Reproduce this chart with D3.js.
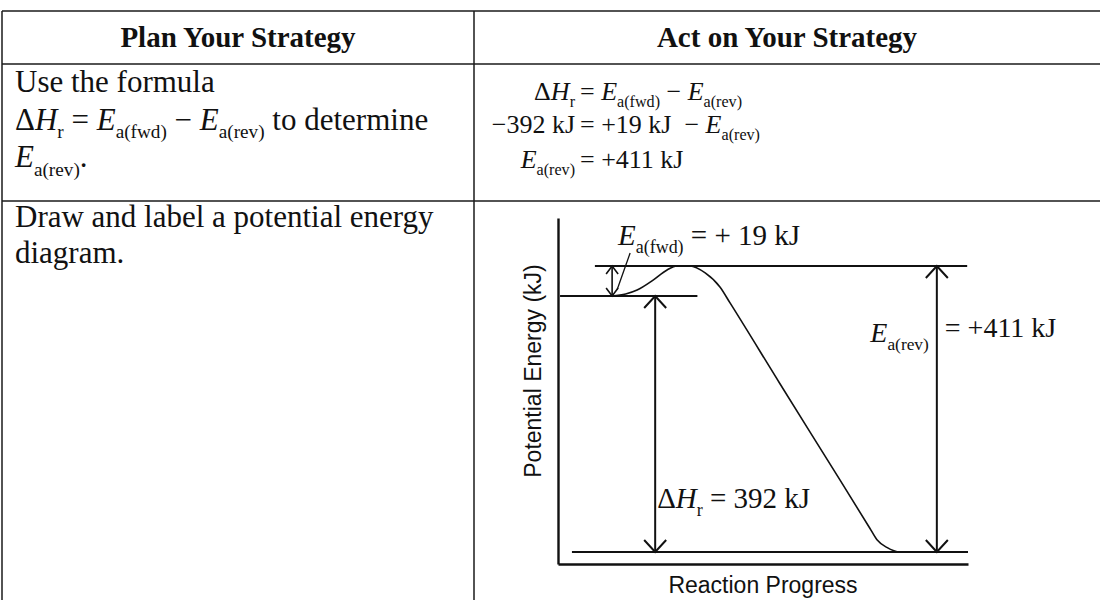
<!DOCTYPE html>
<html>
<head>
<meta charset="utf-8">
<script src="https://cdn.jsdelivr.net/npm/d3@7.9.0/dist/d3.min.js"></script>
<style>
  html, body { margin: 0; padding: 0; background: #fff; }
  svg { display: block; }
  text { fill: #111; white-space: pre; }
</style>
</head>
<body>
<div id="chart"></div>
<script>
// energies in kJ, counted from the products
const levelNames = ["reactants", "activated complex", "products"];
const levelEnergy = [392, 411, 0];

// where each level line starts and stops, as reaction progress (0-100)
const levelStart = [0.5, 9, 3.4];
const levelEnd = [34, 99.8, 100];

// the energy curve
const curveProgress = [13.2, 16.5, 19.3, 23.2, 26.6, 29.0, 32.2, 35.9, 39.5, 42.0, 54.1, 68.8, 76.1, 77.8, 80.2, 83.4, 100];
const curveEnergy = [392, 393.3, 395.8, 402.1, 408.5, 411, 411, 406.6, 397.7, 381, 258, 110, 36, 18.7, 7, 0, 0];

// arrows: Ea(fwd), dH, Ea(rev)
const arrowProgress = [13.2, 23.7, 92.4];
const arrowFrom = [392, 392, 411];
const arrowTo = [411, 0, 0];

// table text, [text, style] with "i" italic and "s" subscript
const headers = ["Plan Your Strategy", "Act on Your Strategy"];
const planLines = [
  [["Use the formula", ""]],
  [["Δ", ""], ["H", "i"], ["r", "s"], [" = ", ""], ["E", "i"], ["a(fwd)", "s"], [" − ", ""], ["E", "i"], ["a(rev)", "s"], [" to determine", ""]],
  [["E", "i"], ["a(rev)", "s"], [".", ""]]
];
const drawLines = [
  [["Draw and label a potential energy", ""]],
  [["diagram.", ""]]
];
const eqLeft = [
  [["Δ", ""], ["H", "i"], ["r", "s"]],
  [["−392 kJ", ""]],
  [["E", "i"], ["a(rev)", "s"]]
];
const eqRight = [
  [["= ", ""], ["E", "i"], ["a(fwd)", "s"], [" − ", ""], ["E", "i"], ["a(rev)", "s"]],
  [["= +19 kJ  − ", ""], ["E", "i"], ["a(rev)", "s"]],
  [["= +411 kJ", ""]]
];

const W = 1100, H = 600;
const serif = "'Liberation Serif', 'Times New Roman', serif";
const sans = "'Liberation Sans', Arial, sans-serif";

const svg = d3.select("#chart").append("svg")
  .attr("width", W)
  .attr("height", H);

function rich(sel, parts, size) {
  let shift = 0;
  parts.forEach(([t, s]) => {
    const sp = sel.append("tspan").text(t);
    if (s === "i") sp.style("font-style", "italic");
    const want = s === "s" ? size * 0.28 : 0;
    if (want !== shift) { sp.attr("dy", want - shift); shift = want; }
    if (s === "s") sp.style("font-size", (size * 0.62) + "px");
  });
}

function textLine(tx, ty, parts, size, anchor) {
  const t = svg.append("text")
    .attr("x", tx).attr("y", ty)
    .attr("text-anchor", anchor || "start")
    .style("font-family", serif)
    .style("font-size", size + "px");
  rich(t, parts, size);
  return t;
}

/* table */
const tLeft = 2, tMid = 474, tTop = 11, headBottom = 64, rowSep = 201;
const grid = svg.append("g").attr("stroke", "#1a1a1a").attr("stroke-width", 1.5);
[tTop, headBottom, rowSep].forEach(yy =>
  grid.append("line").attr("x1", tLeft).attr("x2", W).attr("y1", yy).attr("y2", yy));
[tLeft, tMid].forEach(xx =>
  grid.append("line").attr("x1", xx).attr("x2", xx).attr("y1", tTop).attr("y2", H));

headers.forEach((h, i) => {
  svg.append("text")
    .attr("x", i === 0 ? (tLeft + tMid) / 2 : (tMid + W) / 2)
    .attr("y", 47)
    .attr("text-anchor", "middle")
    .style("font-family", serif)
    .style("font-weight", "bold")
    .style("font-size", "29px")
    .text(h);
});

planLines.forEach((p, i) => textLine(15, 92 + i * 37.5, p, 31));
drawLines.forEach((p, i) => textLine(15, 227 + i * 36, p, 31));

const eqX = 580, eqY = [100, 133, 168];
eqLeft.forEach((p, i) => textLine(eqX - 5, eqY[i], p, 26, "end"));
eqRight.forEach((p, i) => textLine(eqX, eqY[i], p, 26));

/* potential energy diagram */
const x = d3.scaleLinear().domain([0, 100]).range([558, 968]);
const y = d3.scaleLinear().domain([0, 392, 411]).range([552, 296, 266]);
const frameY = d3.scaleLinear().domain([0, 1]).range([564, 218]);

const diagram = svg.append("g");

diagram.append("g")
  .attr("transform", "translate(0,564)")
  .call(d3.axisBottom(x).tickValues([]).tickSizeOuter(0))
  .select(".domain").attr("stroke", "#111").attr("stroke-width", 2.4);

diagram.append("g")
  .attr("transform", "translate(558,0)")
  .call(d3.axisLeft(frameY).tickValues([]).tickSizeOuter(0))
  .select(".domain").attr("stroke", "#111").attr("stroke-width", 2.4);

diagram.selectAll(".level")
  .data(levelNames)
  .join("line")
  .attr("class", "level")
  .attr("x1", (d, i) => x(levelStart[i]))
  .attr("x2", (d, i) => x(levelEnd[i]))
  .attr("y1", (d, i) => y(levelEnergy[i]))
  .attr("y2", (d, i) => y(levelEnergy[i]))
  .attr("stroke", "#111")
  .attr("stroke-width", 1.8);

const curve = d3.line()
  .x(i => x(curveProgress[i]))
  .y(i => y(curveEnergy[i]))
  .curve(d3.curveMonotoneX);

diagram.append("path")
  .attr("d", curve(d3.range(curveProgress.length)))
  .attr("fill", "none")
  .attr("stroke", "#111")
  .attr("stroke-width", 1.6);

arrowProgress.forEach((p, i) => {
  const ax = x(p), y0 = y(arrowFrom[i]), y1 = y(arrowTo[i]);
  const hw = i === 0 ? 6 : 11, hl = i === 0 ? 8 : 12;
  const up = Math.min(y0, y1), dn = Math.max(y0, y1);
  const g = diagram.append("g")
    .attr("fill", "none").attr("stroke", "#111").attr("stroke-width", i === 0 ? 1.6 : 2);
  g.append("line").attr("x1", ax).attr("x2", ax).attr("y1", up).attr("y2", dn);
  g.append("path").attr("d", `M${ax - hw},${up + hl}L${ax},${up}L${ax + hw},${up + hl}`);
  g.append("path").attr("d", `M${ax - hw},${dn - hl}L${ax},${dn}L${ax + hw},${dn - hl}`);
});

// leader from the Ea(fwd) label to its arrow
diagram.append("line")
  .attr("x1", x(arrowProgress[0]) + 18).attr("y1", 253)
  .attr("x2", x(arrowProgress[0]) + 5).attr("y2", y(396))
  .attr("stroke", "#111").attr("stroke-width", 1.3);

textLine(618, 245, [["E", "i"], ["a(fwd)", "s"], [" = + 19 kJ", ""]], 29);
textLine(x(arrowProgress[2]) - 8, 342, [["E", "i"], ["a(rev)", "s"]], 28, "end");
textLine(x(arrowProgress[2]) + 8, 337, [["= +411 kJ", ""]], 28);
textLine(x(arrowProgress[1]) + 2, 508, [["Δ", ""], ["H", "i"], ["r", "s"], [" = 392 kJ", ""]], 29);

svg.append("text")
  .attr("x", (x(0) + x(100)) / 2)
  .attr("y", 593)
  .attr("text-anchor", "middle")
  .style("font-family", sans)
  .style("font-size", "23px")
  .text("Reaction Progress");

svg.append("text")
  .attr("transform", `translate(541,${(frameY(0) + frameY(1)) / 2 - 20}) rotate(-90)`)
  .attr("text-anchor", "middle")
  .style("font-family", sans)
  .style("font-size", "23px")
  .text("Potential Energy (kJ)");
</script>
</body>
</html>
